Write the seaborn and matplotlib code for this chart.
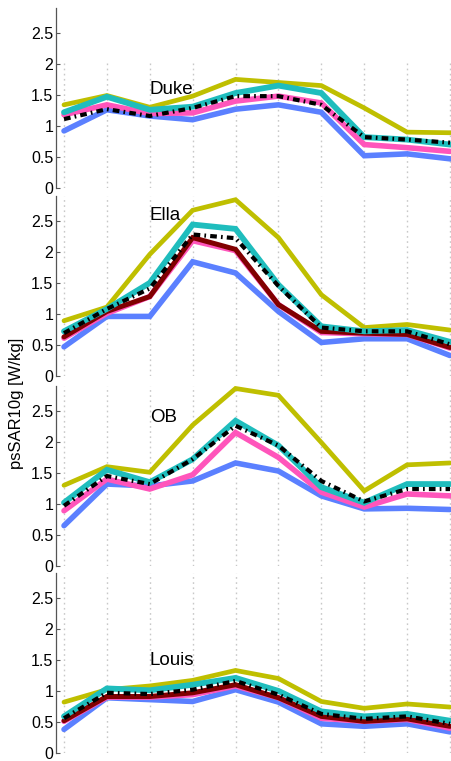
import numpy as np
import pandas as pd
import matplotlib
matplotlib.use("Agg")
import matplotlib.pyplot as plt
import seaborn as sns

# Ten measurement positions along the x axis
positions = list(range(1, 11))
models = ["Duke", "Ella", "OB", "Louis"]

duke_yellow  = [1.34, 1.49, 1.30, 1.48, 1.75, 1.70, 1.65, 1.29, 0.90, 0.89]
duke_blue    = [0.92, 1.26, 1.16, 1.10, 1.27, 1.34, 1.22, 0.52, 0.55, 0.47]
duke_magenta = [1.18, 1.34, 1.20, 1.21, 1.40, 1.48, 1.37, 0.70, 0.65, 0.59]
duke_cyan    = [1.22, 1.47, 1.26, 1.31, 1.53, 1.65, 1.53, 0.82, 0.78, 0.70]
duke_black   = [1.11, 1.27, 1.16, 1.29, 1.48, 1.48, 1.34, 0.82, 0.78, 0.73]

ella_yellow  = [0.89, 1.11, 1.96, 2.67, 2.84, 2.23, 1.31, 0.78, 0.83, 0.74]
ella_blue    = [0.47, 0.96, 0.96, 1.84, 1.66, 1.04, 0.54, 0.60, 0.60, 0.33]
ella_magenta = [0.61, 1.01, 1.28, 2.18, 2.02, 1.15, 0.70, 0.68, 0.67, 0.45]
ella_darkred = [0.63, 1.04, 1.28, 2.23, 2.04, 1.15, 0.72, 0.69, 0.67, 0.46]
ella_cyan    = [0.72, 1.08, 1.50, 2.44, 2.37, 1.47, 0.80, 0.72, 0.74, 0.55]
ella_black   = [0.69, 1.08, 1.41, 2.28, 2.22, 1.45, 0.78, 0.72, 0.72, 0.51]

ob_yellow  = [1.30, 1.60, 1.51, 2.27, 2.86, 2.75, 1.99, 1.21, 1.63, 1.66]
ob_blue    = [0.65, 1.32, 1.29, 1.37, 1.66, 1.53, 1.13, 0.92, 0.93, 0.91]
ob_magenta = [0.89, 1.40, 1.24, 1.47, 2.15, 1.75, 1.19, 0.95, 1.16, 1.13]
ob_cyan    = [1.02, 1.55, 1.35, 1.72, 2.34, 1.94, 1.27, 1.02, 1.32, 1.32]
ob_black   = [0.97, 1.45, 1.32, 1.72, 2.26, 1.94, 1.37, 1.04, 1.24, 1.24]

louis_yellow  = [0.82, 1.02, 1.08, 1.17, 1.33, 1.20, 0.83, 0.72, 0.79, 0.74]
louis_blue    = [0.38, 0.89, 0.86, 0.83, 1.02, 0.82, 0.47, 0.43, 0.47, 0.34]
louis_magenta = [0.51, 0.90, 0.90, 0.94, 1.08, 0.89, 0.56, 0.51, 0.54, 0.40]
louis_darkred = [0.52, 0.91, 0.91, 0.97, 1.10, 0.89, 0.59, 0.51, 0.55, 0.43]
louis_cyan    = [0.59, 1.04, 1.01, 1.10, 1.21, 1.00, 0.67, 0.59, 0.63, 0.52]
louis_black   = [0.56, 0.97, 0.95, 1.02, 1.16, 0.94, 0.63, 0.55, 0.59, 0.47]

label_y = {"Duke": 1.58, "Ella": 2.59, "OB": 2.39, "Louis": 1.49}
yticks = [0, 0.5, 1, 1.5, 2, 2.5]
ytick_labels = ["0", "0.5", "1", "1.5", "2", "2.5"]

panel_data = {
    "Duke": {"yellow": duke_yellow, "blue": duke_blue, "magenta": duke_magenta,
             "cyan": duke_cyan, "black": duke_black},
    "Ella": {"yellow": ella_yellow, "blue": ella_blue, "magenta": ella_magenta,
             "darkred": ella_darkred, "cyan": ella_cyan, "black": ella_black},
    "OB": {"yellow": ob_yellow, "blue": ob_blue, "magenta": ob_magenta,
           "cyan": ob_cyan, "black": ob_black},
    "Louis": {"yellow": louis_yellow, "blue": louis_blue, "magenta": louis_magenta,
              "darkred": louis_darkred, "cyan": louis_cyan, "black": louis_black},
}

rows = []
for m in models:
    for name, vals in panel_data[m].items():
        for x, v in zip(positions, vals):
            rows.append({"model": m, "series": name, "pos": x, "sar": v})
df = pd.DataFrame(rows)

draw_order = ["yellow", "blue", "magenta", "darkred", "cyan", "black"]
styles = {
    "yellow":  dict(color="#bfbf00", lw=3.4, ls="-"),
    "blue":    dict(color="#5b80ff", lw=4.0, ls="-"),
    "magenta": dict(color="#ff55bb", lw=4.0, ls="-"),
    "darkred": dict(color="#800000", lw=3.6, ls="-"),
    "cyan":    dict(color="#1fbdbd", lw=4.2, ls="-"),
    "black":   dict(color="black", lw=3.0, ls=(0, (1.6, 1.0, 0.4, 1.0))),
}

sns.set_theme(style="white")
plt.rcParams["font.family"] = ["Liberation Sans", "DejaVu Sans"]

W, H = 452, 761
fig = plt.figure(figsize=(W / 100, H / 100), dpi=100)

zero_px = [188, 376, 566, 753]
panel_h = 180
left_px = 56
for i, m in enumerate(models):
    bottom = 1 - zero_px[i] / H
    ax = fig.add_axes([left_px / W, bottom, 1 - left_px / W, panel_h / H])
    sub = df[df.model == m]
    for name in draw_order:
        d = sub[sub.series == name]
        if d.empty:
            continue
        st = styles[name]
        sns.lineplot(data=d, x="pos", y="sar", ax=ax, color=st["color"],
                     linewidth=st["lw"], linestyle=st["ls"], legend=False,
                     solid_joinstyle="miter", dash_capstyle="butt",
                     clip_on=False, zorder=3)
    ymax_frac = 2.03 / 2.9 if i == 0 else 1.0
    for x in positions:
        ax.axvline(x, ymin=0, ymax=ymax_frac, color="#c8c8c8", lw=1.0,
                   ls=(0, (1.2, 2.5)), zorder=1)
    ax.set_xlim(0.8135, 10.047)
    ax.set_ylim(0, 2.9)
    ax.set_yticks(yticks)
    ax.set_yticklabels(ytick_labels)
    ax.set_xticks([])
    ax.set_xlabel("")
    ax.set_ylabel("")
    for s in ["top", "right", "bottom"]:
        ax.spines[s].set_visible(False)
    ax.spines["left"].set_color("#555555")
    ax.spines["left"].set_linewidth(0.9)
    ax.tick_params(axis="y", direction="in", length=3, width=0.8,
                   color="#555555", labelsize=11.5, labelcolor="black",
                   pad=2, left=True)
    ax.text(3, label_y[m], m, fontsize=13.5, color="black",
            ha="left", va="center", zorder=5)
    ax.set_facecolor("none")

fig.text(17 / W, 1 - 403 / H, "psSAR10g [W/kg]", rotation=90,
         ha="center", va="center", fontsize=12, color="black")

fig.savefig("out.png", dpi=100, facecolor="white")
